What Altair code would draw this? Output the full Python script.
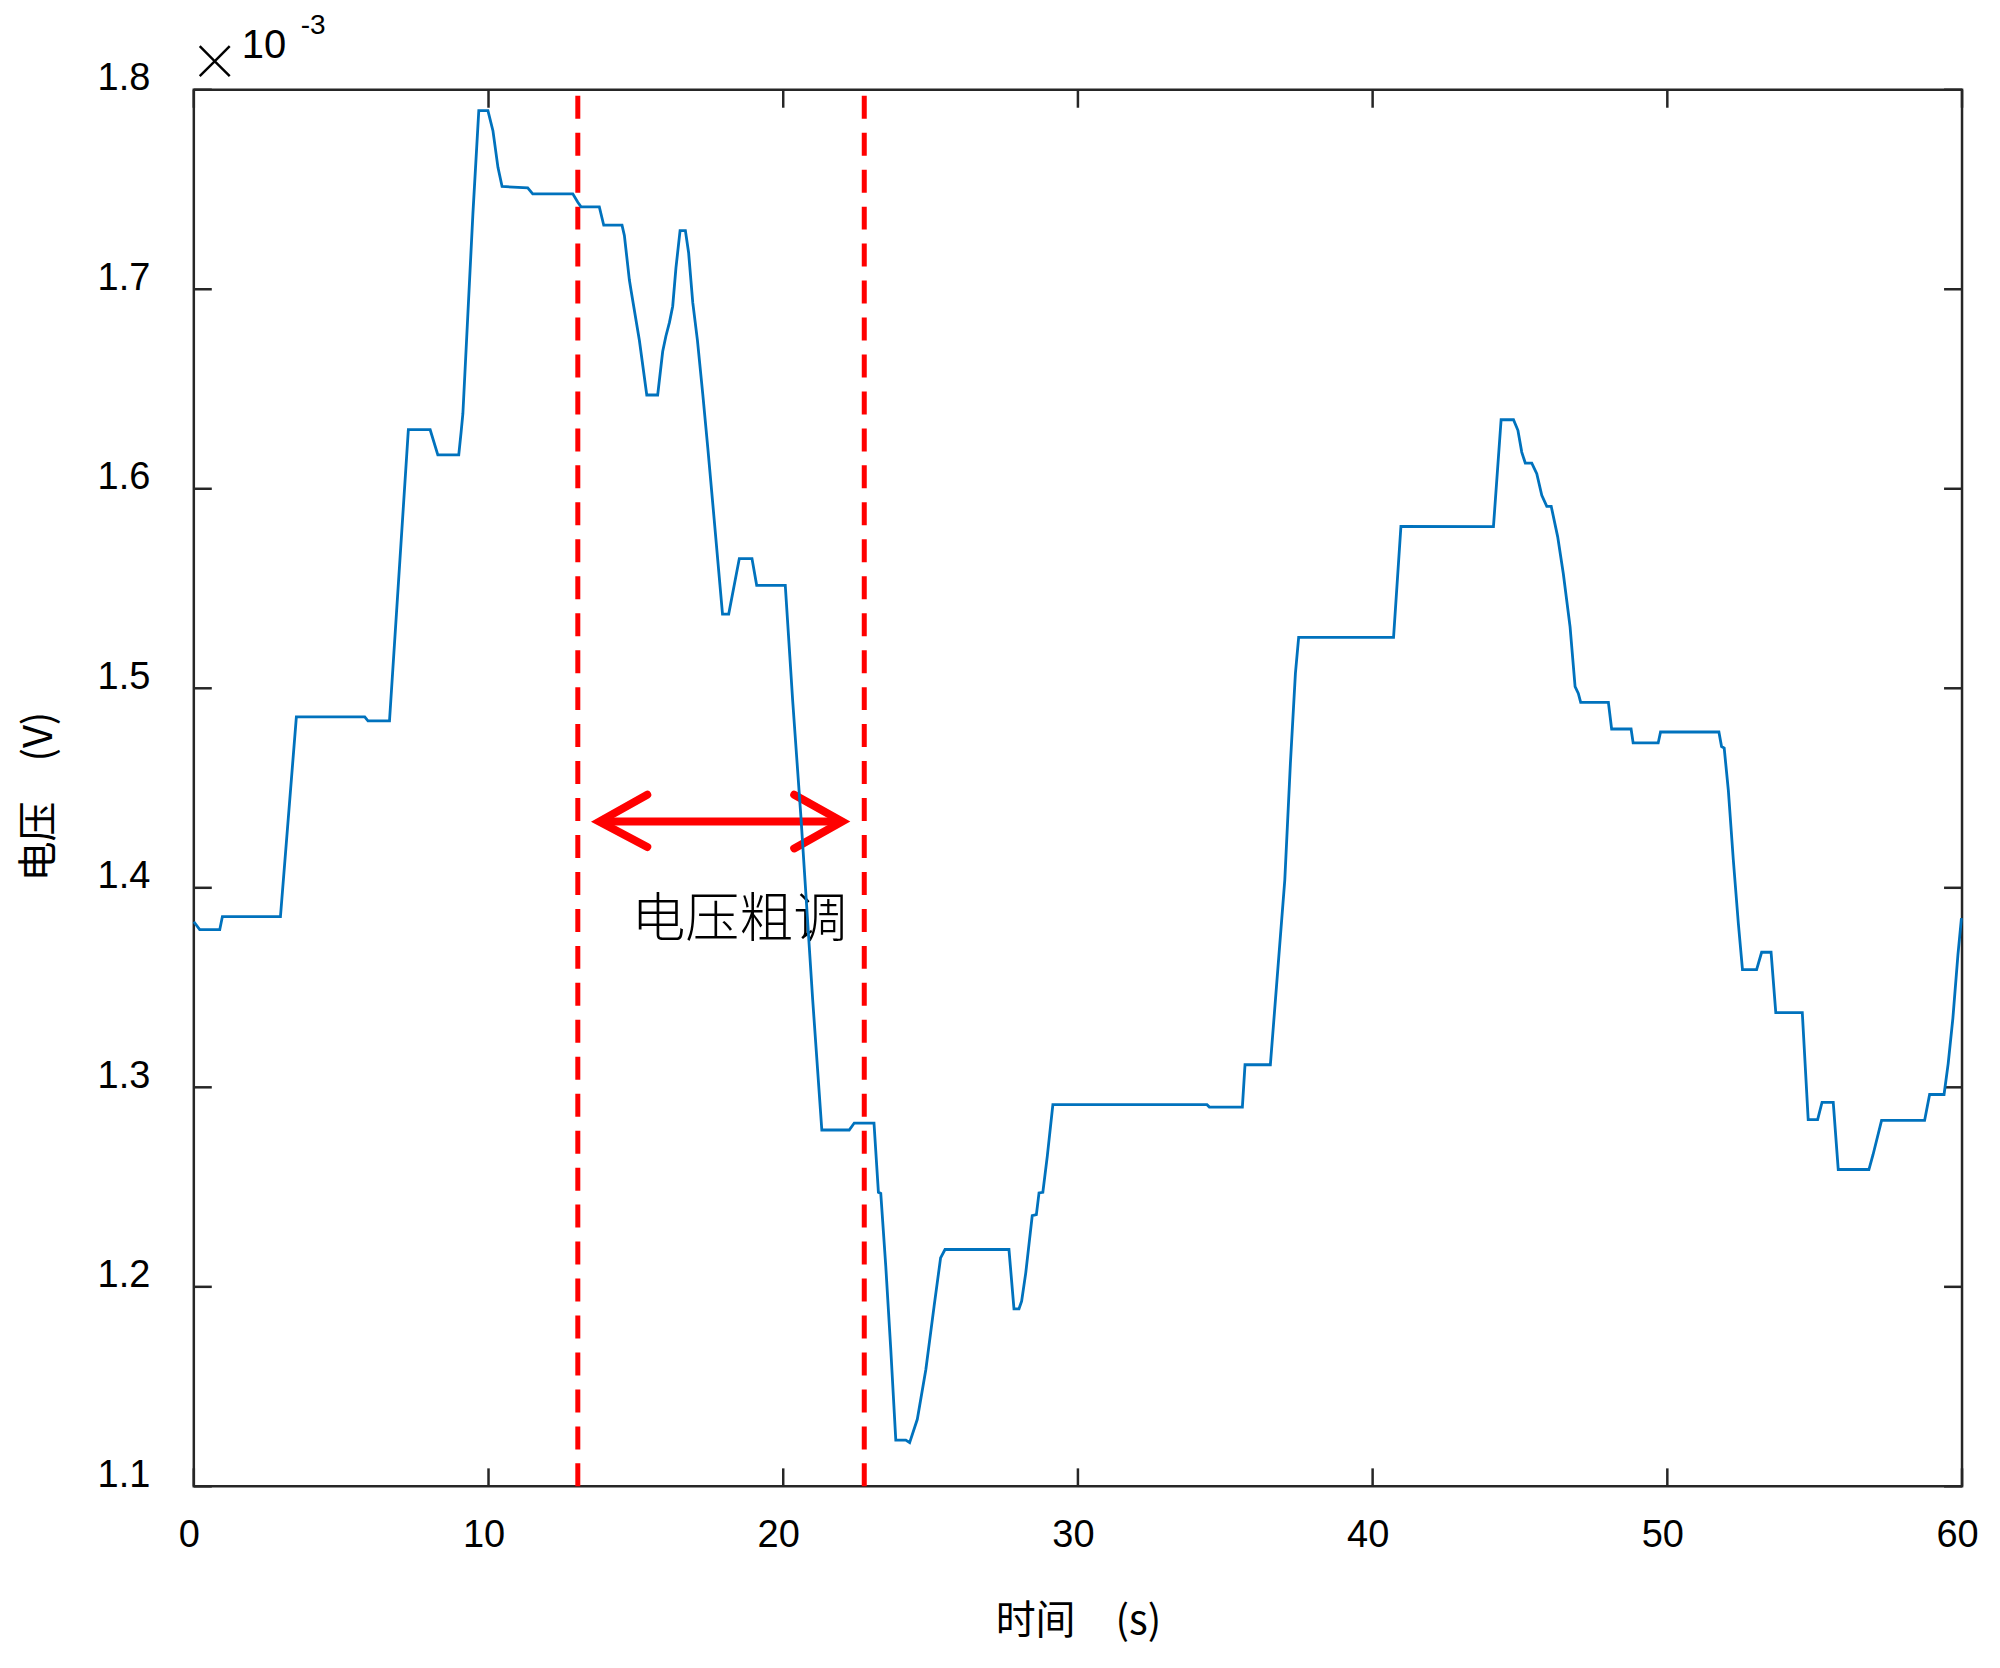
import altair as alt
import pandas as pd

# ---- data (voltage in units of 1e-3 V) ----
time_s = [0.00, 0.20, 0.88, 0.97, 2.94, 3.48, 5.80, 5.91, 6.64, 7.28,
          8.02, 8.28, 8.99, 9.07, 9.13, 9.30, 9.47, 9.67, 9.98, 10.15,
          10.32, 10.46, 11.33, 11.50, 12.86, 13.03, 13.14, 13.76, 13.91, 14.53,
          14.61, 14.78, 14.84, 15.12, 15.37, 15.74, 15.91, 16.02, 16.14, 16.25,
          16.36, 16.50, 16.68, 16.79, 16.93, 17.09, 17.27, 17.44, 17.66, 17.94,
          18.15, 18.51, 18.94, 19.10, 20.07, 20.32, 20.60, 21.00, 21.31, 22.24,
          22.41, 23.08, 23.23, 23.31, 23.48, 23.65, 23.82, 24.16, 24.29, 24.55,
          24.84, 25.12, 25.34, 25.49, 27.66, 27.83, 28.00, 28.09, 28.23, 28.45,
          28.59, 28.68, 28.81, 28.96, 29.15, 34.38, 34.46, 35.58, 35.67, 36.53,
          37.02, 37.21, 37.38, 37.49, 40.71, 40.96, 44.10, 44.36, 44.78, 44.93,
          45.06, 45.18, 45.40, 45.57, 45.74, 45.91, 46.06, 46.28, 46.47, 46.70,
          46.87, 46.98, 47.06, 48.00, 48.11, 48.77, 48.84, 49.69, 49.77, 51.75,
          51.84, 51.93, 52.07, 52.24, 52.41, 52.55, 53.03, 53.20, 53.52, 53.68,
          54.58, 54.78, 55.10, 55.25, 55.63, 55.80, 56.84, 56.98, 57.27, 58.73,
          58.90, 59.39, 59.53, 59.69, 59.86, 59.98]
voltage = [1.3830, 1.3790, 1.3790, 1.3856, 1.3856, 1.4857, 1.4857, 1.4837, 1.4837, 1.6296,
           1.6296, 1.6170, 1.6170, 1.6284, 1.6376, 1.6877, 1.7378, 1.7895, 1.7895, 1.7795,
           1.7611, 1.7515, 1.7508, 1.7478, 1.7478, 1.7436, 1.7413, 1.7413, 1.7321, 1.7321,
           1.7270, 1.7046, 1.6991, 1.6743, 1.6470, 1.6470, 1.6688, 1.6766, 1.6834, 1.6915,
           1.7107, 1.7294, 1.7294, 1.7183, 1.6934, 1.6743, 1.6474, 1.6206, 1.5842, 1.5372,
           1.5372, 1.5650, 1.5650, 1.5516, 1.5516, 1.4940, 1.4357, 1.3439, 1.2786, 1.2786,
           1.2821, 1.2821, 1.2474, 1.2468, 1.2103, 1.1686, 1.1232, 1.1232, 1.1219, 1.1336,
           1.1586, 1.1903, 1.2145, 1.2187, 1.2187, 1.1890, 1.1890, 1.1928, 1.2070, 1.2357,
           1.2362, 1.2471, 1.2474, 1.2654, 1.2913, 1.2913, 1.2901, 1.2901, 1.3113, 1.3113,
           1.4040, 1.4624, 1.5075, 1.5255, 1.5255, 1.5812, 1.5810, 1.6346, 1.6346, 1.6293,
           1.6184, 1.6129, 1.6129, 1.6076, 1.5967, 1.5912, 1.5912, 1.5759, 1.5575, 1.5308,
           1.5008, 1.4974, 1.4929, 1.4929, 1.4796, 1.4796, 1.4726, 1.4726, 1.4781, 1.4781,
           1.4708, 1.4700, 1.4489, 1.4138, 1.3821, 1.3590, 1.3590, 1.3677, 1.3677, 1.3374,
           1.3374, 1.2838, 1.2838, 1.2925, 1.2925, 1.2588, 1.2588, 1.2662, 1.2834, 1.2834,
           1.2964, 1.2964, 1.3119, 1.3347, 1.3663, 1.3848]

x_ticks = [0, 10, 20, 30, 40, 50, 60]
y_ticks = [1.1, 1.2, 1.3, 1.4, 1.5, 1.6, 1.7, 1.8]

marker_times = [13.03, 22.75]          # red dashed lines
arrow_from = [13.76]
arrow_to = [22.0]
arrow_level = [1.4332]
note_text = ["电压粗调"]
note_time = [18.51]
note_level = [1.3834]

x_title = "时间　(s)"
y_title = "电压　(V)"

W, H = 1770, 1398
TICK = 18
BOX = "#262626"
LATIN = "Liberation Sans"
CJK = "Noto Sans CJK SC"

xs = alt.Scale(domain=[0, 60], nice=False, zero=False)
ys = alt.Scale(domain=[1.1, 1.8], nice=False, zero=False)

x_axis = alt.Axis(
    values=x_ticks, title=x_title, format="d", domain=False, grid=False,
    ticks=False, tickSize=0, labelFont=LATIN, labelFontSize=38, labelColor="black",
    labelPadding=30, labelFlush=False, labelOffset=-5,
    titleFont=CJK, titleFontSize=40, titleFontWeight="normal", titleColor="black",
    titleY=135, titleBaseline="middle")
y_axis = alt.Axis(
    values=y_ticks, title=y_title, format=".1f", domain=False, grid=False,
    ticks=False, tickSize=0, labelFont=LATIN, labelFontSize=38, labelColor="black",
    labelPadding=44, labelOffset=-11,
    titleFont=CJK, titleFontSize=40, titleFontWeight="normal", titleColor="black",
    titleX=-154, titleY=707, titleAngle=270, titleBaseline="middle")


def X(field):
    return alt.X(field, scale=xs, axis=x_axis)


def Y(field):
    return alt.Y(field, scale=ys, axis=y_axis)


df = pd.DataFrame({"t": time_s, "v": voltage})
xt = pd.DataFrame({"t": x_ticks})
yt = pd.DataFrame({"v": y_ticks})

tick_style = dict(color=BOX, strokeWidth=2.5)
bottom_ticks = alt.Chart(xt).mark_rule(**tick_style).encode(
    x=X("t:Q"), y=alt.value(H), y2=alt.value(H - TICK))
top_ticks = alt.Chart(xt).mark_rule(**tick_style).encode(
    x=X("t:Q"), y=alt.value(0), y2=alt.value(TICK))
left_ticks = alt.Chart(yt).mark_rule(**tick_style).encode(
    y=Y("v:Q"), x=alt.value(0), x2=alt.value(TICK))
right_ticks = alt.Chart(yt).mark_rule(**tick_style).encode(
    y=Y("v:Q"), x=alt.value(W), x2=alt.value(W - TICK))

markers = alt.Chart(pd.DataFrame({"t": marker_times})).mark_rule(
    color="#FF0000", strokeWidth=5, strokeDash=[23, 14]
).encode(x=X("t:Q"), y=alt.value(6), y2=alt.value(H))

arrow_df = pd.DataFrame({"t": arrow_from, "t2": arrow_to, "v": arrow_level})
shaft = alt.Chart(arrow_df).mark_rule(color="#FF0000", strokeWidth=8).encode(
    x=X("t:Q"), x2="t2:Q", y=Y("v:Q"))
head_left = alt.Chart(arrow_df).mark_point(
    shape="M 1 -0.56 L 0 0 L 1 0.53", filled=False, size=9216,
    color="#FF0000", strokeWidth=8, opacity=1, strokeCap="round", strokeJoin="miter"
).encode(x=X("t:Q"), y=Y("v:Q"))
head_right = alt.Chart(arrow_df).mark_point(
    shape="M -1 -0.56 L 0 0 L -1 0.56", filled=False, size=9216,
    color="#FF0000", strokeWidth=8, opacity=1, strokeCap="round", strokeJoin="miter"
).encode(x=X("t2:Q"), y=Y("v:Q"))

note = alt.Chart(pd.DataFrame({"t": note_time, "v": note_level, "s": note_text})).mark_text(
    font=CJK, fontSize=54, fontWeight=300, color="black", align="center", baseline="middle"
).encode(x=X("t:Q"), y=Y("v:Q"), text="s:N")

exp_times = alt.Chart(pd.DataFrame({"s": ["×"]})).mark_text(
    font=CJK, fontSize=50, fontWeight=300, color="black", align="center", baseline="middle"
).encode(x=alt.value(21), y=alt.value(-25), text="s:N")
exp_base = alt.Chart(pd.DataFrame({"s": ["10"]})).mark_text(
    font=LATIN, fontSize=40, color="black", align="left", baseline="alphabetic"
).encode(x=alt.value(48), y=alt.value(-32), text="s:N")
exp_pow = alt.Chart(pd.DataFrame({"s": ["-3"]})).mark_text(
    font=LATIN, fontSize=28, color="black", align="left", baseline="alphabetic"
).encode(x=alt.value(107), y=alt.value(-56), text="s:N")

line = alt.Chart(df).mark_line(color="#0072BD", strokeWidth=2.8).encode(
    x=X("t:Q"), y=Y("v:Q"))

chart = alt.layer(
    bottom_ticks, top_ticks, left_ticks, right_ticks,
    markers, shaft, head_left, head_right, note,
    exp_times, exp_base, exp_pow,
    line,
).properties(
    width=W, height=H,
    autosize=alt.AutoSizeParams(type="none"),
    padding={"left": 186, "top": 81, "right": 30, "bottom": 170},
    background="white",
).configure_view(stroke=BOX, strokeWidth=2.5)

chart.save("out.html", embed_options={"renderer": "svg", "actions": False})
